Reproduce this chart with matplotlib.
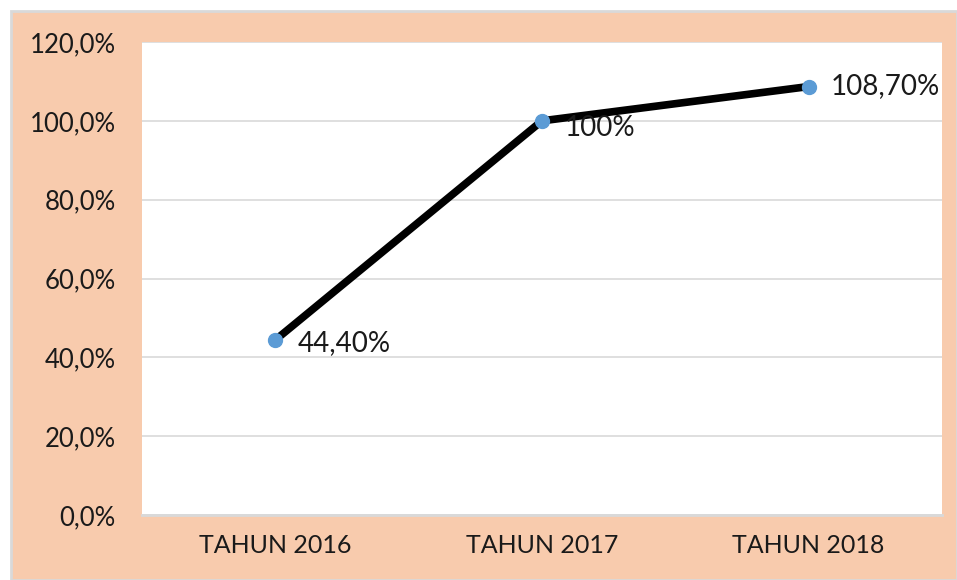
import matplotlib
matplotlib.use("Agg")
import matplotlib.pyplot as plt
from matplotlib.patches import Rectangle

categories = ["TAHUN 2016", "TAHUN 2017", "TAHUN 2018"]
values = [44.4, 100.0, 108.7]
labels = ["44,40%", "100%", "108,70%"]
yticks = [0, 20, 40, 60, 80, 100, 120]
ytick_labels = ["0,0%", "20,0%", "40,0%", "60,0%", "80,0%", "100,0%", "120,0%"]

plt.rcParams['font.family'] = ['Lato', 'DejaVu Sans']

W, H = 957, 580
fig = plt.figure(figsize=(W/100, H/100), dpi=100)
fig.patch.set_facecolor("white")
fig.patches.append(Rectangle((11/W, 0), 1 - 11/W, 1 - 11/H, transform=fig.transFigure,
                             facecolor="#F8CBAD", edgecolor="#D9D9D9", linewidth=2, zorder=-10))

ax = fig.add_axes([142/W, 1 - 515/H, 800/W, (515-42)/H])
ax.set_zorder(5)
ax.set_facecolor("white")
x = list(range(len(categories)))
ax.plot(x, values, color="black", linewidth=5.5, zorder=3, solid_capstyle="round")
ax.plot(x, values, linestyle="none", marker="o", markersize=10, color="#5B9BD5", zorder=4)

offsets = [(16, -2), (16, -5), (16, 0)]
for xi, v, lab, off in zip(x, values, labels, offsets):
    ax.annotate(lab, (xi, v), xytext=off, textcoords="offset points",
                ha="left", va="center", fontsize=20, color="#1a1a1a", zorder=5,
                annotation_clip=False)

ax.set_xlim(-0.5, 2.5)
ax.set_ylim(0, 120)
ax.set_yticks(yticks)
ax.set_yticklabels(ytick_labels)
ax.set_xticks(x)
ax.set_xticklabels(categories)
ax.tick_params(axis="y", length=0, pad=19, labelsize=18.5, labelcolor="#1a1a1a")
ax.tick_params(axis="x", length=0, pad=14, labelsize=18, labelcolor="#1a1a1a")
ax.grid(axis="y", color="#D9D9D9", linewidth=1.2, zorder=0)
ax.set_axisbelow(True)
for s in ["top", "right", "left"]:
    ax.spines[s].set_visible(False)
ax.spines["bottom"].set_color("#D9D9D9")
ax.spines["bottom"].set_linewidth(2)

fig.savefig("out.png", dpi=100, facecolor=fig.get_facecolor())
